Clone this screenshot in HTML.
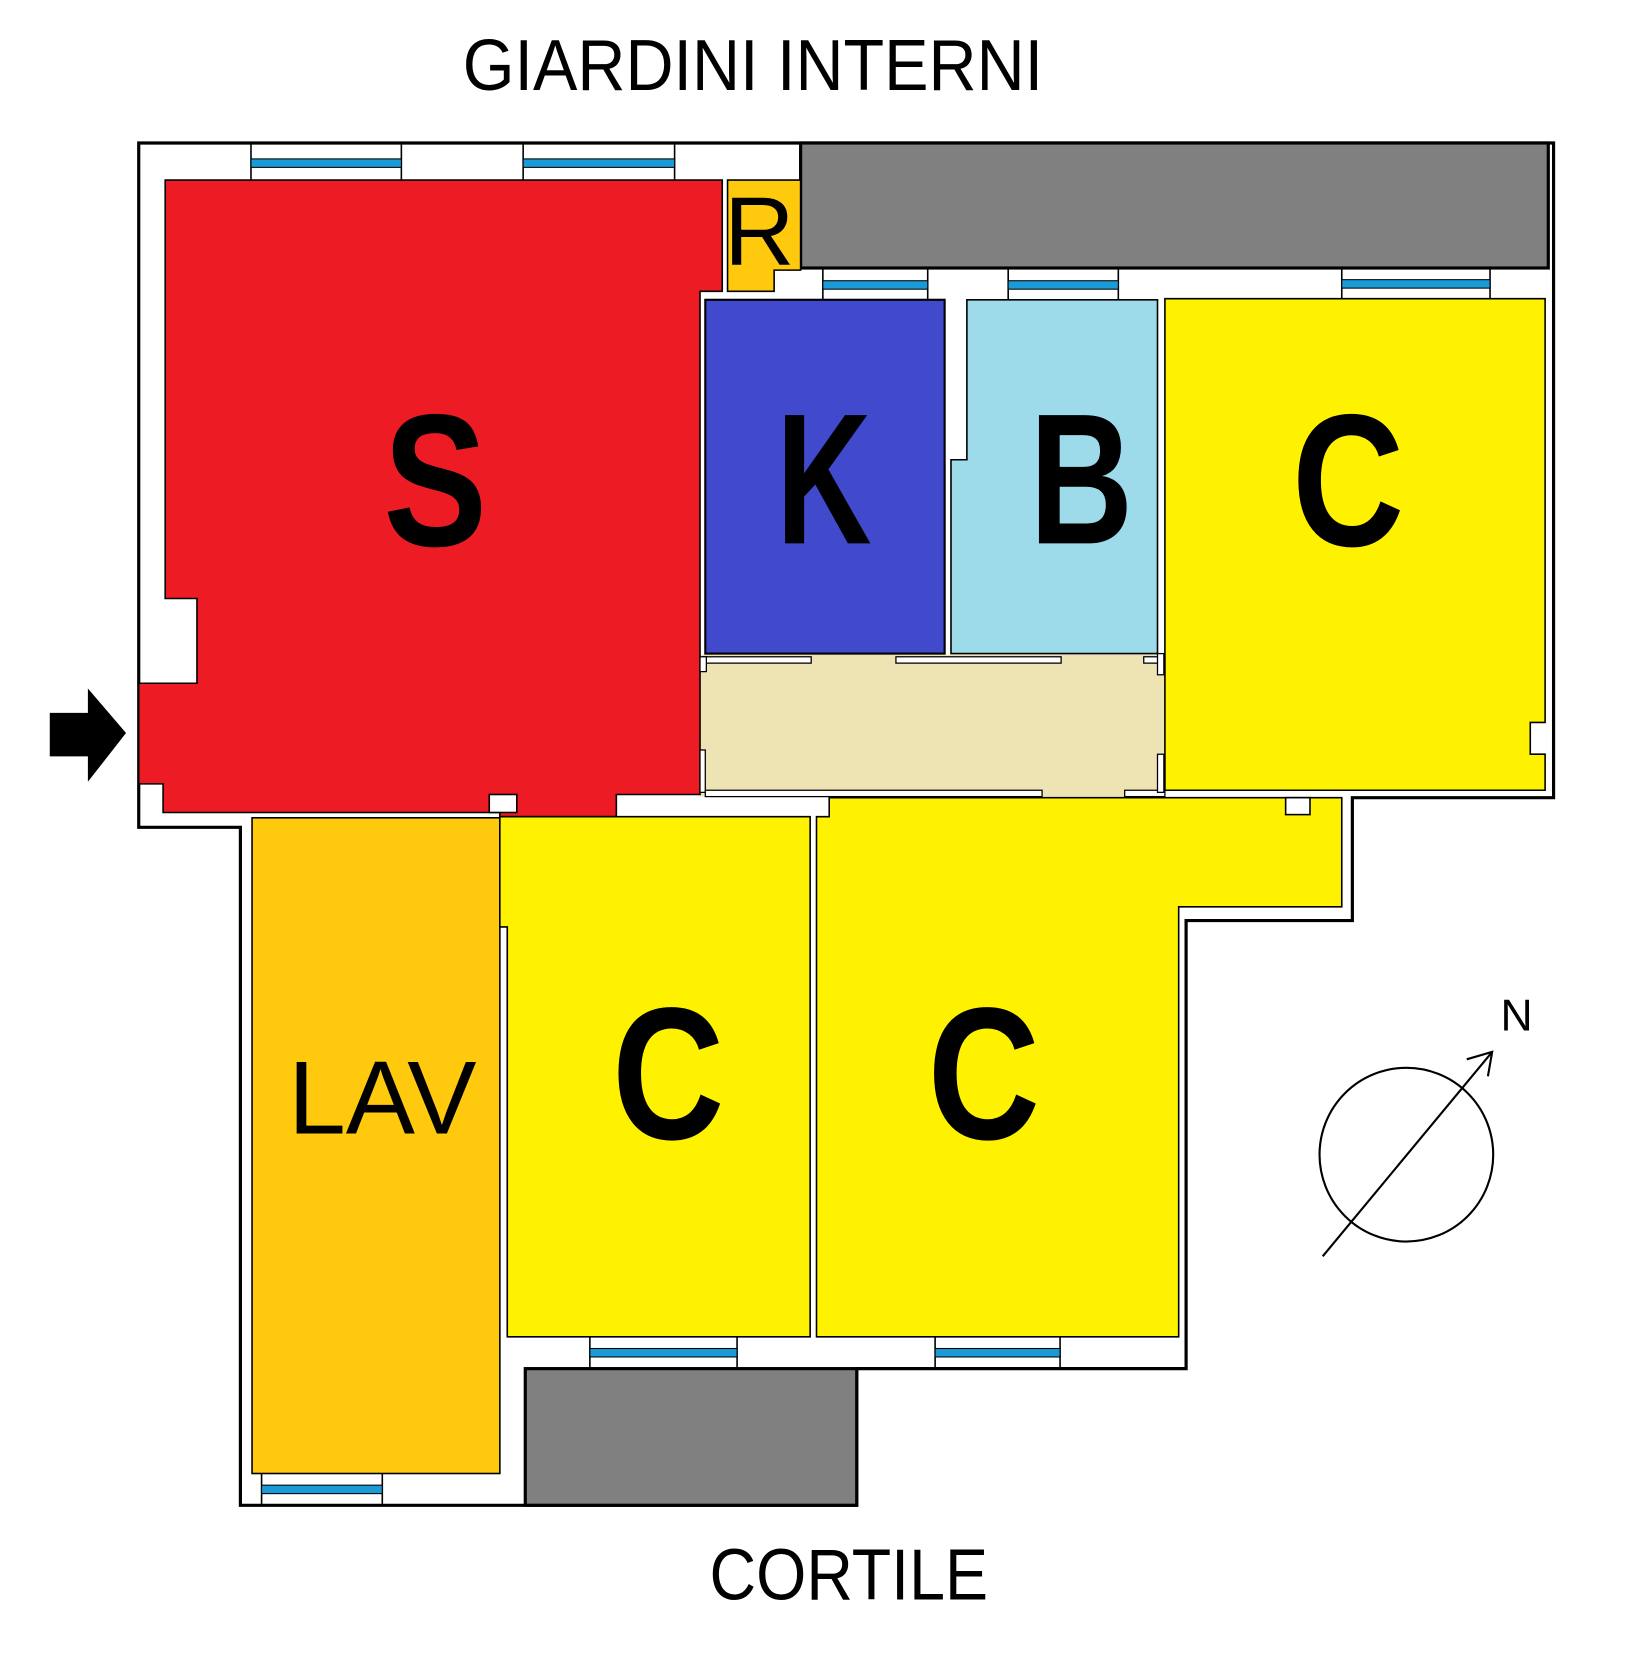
<!DOCTYPE html>
<html><head><meta charset="utf-8"><style>
html,body{margin:0;padding:0;background:#fff;}
svg{display:block;}
text{font-family:"Liberation Sans",sans-serif;}
</style></head><body>
<svg width="1633" height="1661" viewBox="0 0 1542 1568" preserveAspectRatio="none" xmlns="http://www.w3.org/2000/svg">
<rect x="0" y="0" width="1542" height="1568" fill="#fff"/>
<text x="437" y="85" font-size="68" textLength="548" lengthAdjust="spacingAndGlyphs" fill="#000">GIARDINI INTERNI</text>
<text x="670" y="1510" font-size="68" textLength="263" lengthAdjust="spacingAndGlyphs" fill="#000">CORTILE</text>

<polygon points="131,135 1467,135 1467,753 1277,753 1277,869 1120,869 1120,1292 809,1292 809,1421 227,1421 227,781 131,781" fill="#fff" stroke="#000" stroke-width="3"/>

<rect x="756" y="135" width="706" height="118" fill="#808080" stroke="#000" stroke-width="3"/>
<rect x="496" y="1292" width="313" height="129" fill="#808080" stroke="#000" stroke-width="3"/>

<g stroke="#000" stroke-width="1.5">
<line x1="237" y1="135" x2="237" y2="170"/><line x1="379" y1="135" x2="379" y2="170"/>
<line x1="494" y1="135" x2="494" y2="170"/><line x1="637" y1="135" x2="637" y2="170"/>
<line x1="777" y1="253" x2="777" y2="283"/><line x1="876" y1="253" x2="876" y2="283"/>
<line x1="952" y1="253" x2="952" y2="283"/><line x1="1056" y1="253" x2="1056" y2="283"/>
<line x1="1267" y1="253" x2="1267" y2="282"/><line x1="1407" y1="253" x2="1407" y2="282"/>
<line x1="557" y1="1262" x2="557" y2="1292"/><line x1="696" y1="1262" x2="696" y2="1292"/>
<line x1="883" y1="1262" x2="883" y2="1292"/><line x1="1001" y1="1262" x2="1001" y2="1292"/>
<line x1="247" y1="1391" x2="247" y2="1421"/><line x1="361" y1="1391" x2="361" y2="1421"/>
</g>
<g fill="#1a9ad6" stroke="#000" stroke-width="1">
<rect x="237" y="150" width="142" height="8"/>
<rect x="494" y="150" width="143" height="8"/>
<rect x="777" y="265" width="99" height="8"/>
<rect x="952" y="265" width="104" height="8"/>
<rect x="1267" y="264" width="140" height="8"/>
<rect x="557" y="1273" width="139" height="8"/>
<rect x="883" y="1273" width="118" height="8"/>
<rect x="247" y="1402" width="114" height="8"/>
</g>

<rect x="661" y="618" width="439" height="134" fill="#eee3b3"/>

<polygon points="156,170 682,170 682,275 661,275 661,750 582,750 582,771 472,771 472,767 154,767 154,740 131,740 131,645 186,645 186,565 156,565" fill="#ed1c24" stroke="#000" stroke-width="1.5"/>
<rect x="462" y="750" width="26" height="17" fill="#fff" stroke="#000" stroke-width="1.5"/>

<polygon points="687,170 756,170 756,255 731,255 731,275 687,275" fill="#ffc90e" stroke="#000" stroke-width="1.5"/>

<rect x="666" y="283" width="226" height="334" fill="#4149cc" stroke="#000" stroke-width="2"/>
<polygon points="913,283 1093,283 1093,617 898,617 898,434 913,434" fill="#9ddaea" stroke="#000" stroke-width="1.5"/>
<polygon points="1100,282 1459,282 1459,682 1445,682 1445,712 1459,712 1459,746 1100,746" fill="#fff200" stroke="#000" stroke-width="1.5"/>

<g fill="#fff" stroke="#000" stroke-width="1.2">
<rect x="664" y="620" width="102" height="6"/>
<rect x="846" y="620" width="156" height="6"/>
<rect x="1080" y="620" width="16" height="6"/>
<rect x="661" y="620" width="6" height="14"/>
<rect x="1093" y="617" width="6" height="20"/>
<rect x="661" y="708" width="5" height="40"/>
<rect x="666" y="746" width="318" height="6"/>
<rect x="1062" y="746" width="38" height="6"/>
<rect x="1093" y="712" width="6" height="36"/>
</g>

<rect x="238" y="772" width="234" height="619" fill="#ffc90e" stroke="#000" stroke-width="1.5"/>
<polygon points="472,771 765,771 765,1262 479,1262 479,875 472,875" fill="#fff200" stroke="#000" stroke-width="1.5"/>
<polygon points="783,753 1267,753 1267,856 1113,856 1113,1262 771,1262 771,771 783,771" fill="#fff200" stroke="#000" stroke-width="1.5"/>
<rect x="1214" y="753" width="23" height="16" fill="#fff" stroke="#000" stroke-width="1.5"/>

<g font-weight="bold" fill="#000" lengthAdjust="spacingAndGlyphs">
<text x="362" y="515" font-size="178" textLength="98" lengthAdjust="spacingAndGlyphs">S</text>
<text x="733" y="513" font-size="176" textLength="90" lengthAdjust="spacingAndGlyphs">K</text>
<text x="972" y="513" font-size="176" textLength="98" lengthAdjust="spacingAndGlyphs">B</text>
<text x="1220" y="515" font-size="178" textLength="106" lengthAdjust="spacingAndGlyphs">C</text>
<text x="578" y="1075" font-size="178" textLength="106" lengthAdjust="spacingAndGlyphs">C</text>
<text x="876" y="1075" font-size="178" textLength="106" lengthAdjust="spacingAndGlyphs">C</text>
</g>
<text x="361" y="1070" font-size="98" text-anchor="middle" fill="#000">LAV</text>
<text x="717" y="250" font-size="92" text-anchor="middle" fill="#000">R</text>

<polygon points="47,673 83,673 83,650 119,692 83,738 83,714 47,714" fill="#000"/>

<circle cx="1328" cy="1090" r="82" fill="none" stroke="#000" stroke-width="2"/>
<line x1="1249" y1="1186" x2="1409" y2="993" stroke="#000" stroke-width="2"/>
<polyline points="1385,1000 1409,993 1405,1016" fill="none" stroke="#000" stroke-width="2"/>
<text x="1432" y="973" font-size="42" text-anchor="middle" fill="#000">N</text>
</svg>
</body></html>
